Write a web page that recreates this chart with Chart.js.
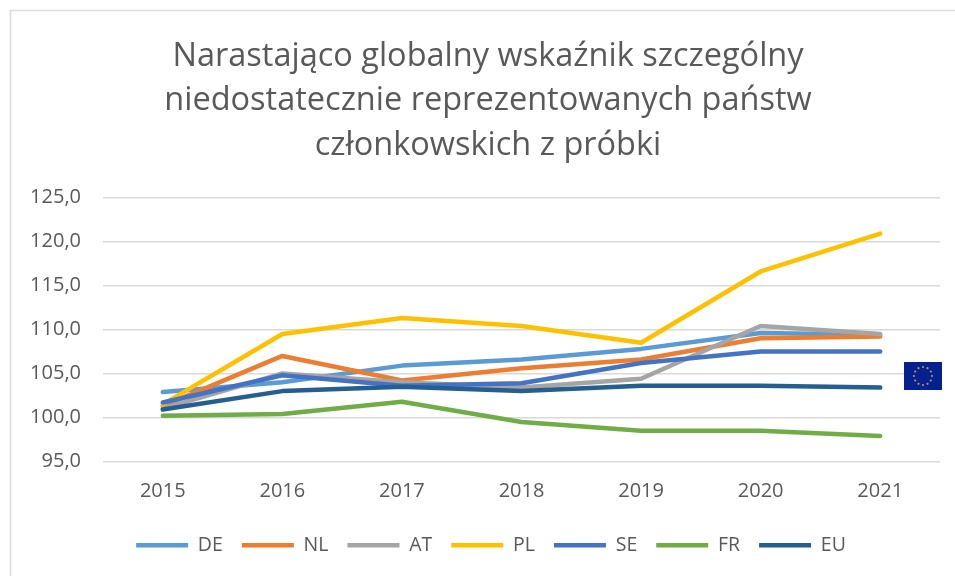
<!DOCTYPE html>
<html><head><meta charset="utf-8">
<style>html,body{margin:0;padding:0;background:#fff;width:955px;height:576px;overflow:hidden}
#w{position:absolute;left:0;top:0;width:955px;height:576px}</style>
<script src="https://cdn.jsdelivr.net/npm/chart.js@4"></script>
</head><body><div id="w"><canvas id="c" width="955" height="576"></canvas></div>
<script>
const years=['2015','2016','2017','2018','2019','2020','2021'];
const DE=[102.9,104.0,105.9,106.6,107.8,109.6,109.4];
const NL=[101.3,107.0,104.2,105.6,106.6,109.0,109.2];
const AT=[101.0,105.0,104.0,103.4,104.4,110.4,109.5];
const PL=[101.5,109.5,111.3,110.4,108.5,116.6,120.9];
const SE=[101.7,104.8,103.6,103.9,106.2,107.5,107.5];
const FR=[100.2,100.4,101.8,99.5,98.5,98.5,97.9];
const EU=[100.9,103.0,103.5,103.0,103.6,103.6,103.4];
const names=['DE','NL','AT','PL','SE','FR','EU'];
const colors=['#5B9BD5','#ED7D31','#A5A5A5','#FFC000','#4472C4','#70AD47','#255E91'];
const series=[DE,NL,AT,PL,SE,FR,EU];
const titleLines=['Narastająco globalny wskaźnik szczególny','niedostatecznie reprezentowanych państw','członkowskich z próbki'];
const yTicks=[95,100,105,110,115,120,125];
const frame={id:'frame',beforeDraw(ch){const x=ch.ctx;x.save();x.strokeStyle='#dcdcdc';x.lineWidth=1.5;
 x.beginPath();x.moveTo(10.5,576);x.lineTo(10.5,10.5);x.lineTo(955,10.5);x.stroke();x.restore();}};
const flag={id:'flag',afterDraw(ch){const x=ch.ctx;const L=904,T=362,W=38,H=28;x.save();x.fillStyle='#06218f';x.fillRect(L,T,W,H);
 x.fillStyle='#a89f5a';const cx=L+W/2,cy=T+H/2,r=9;
 for(let i=0;i<12;i++){const a=i*Math.PI/6;x.beginPath();x.arc(cx+r*Math.sin(a),cy-r*Math.cos(a),1.1,0,7);x.fill();}
 x.restore();}};
const nudge={id:'nudge',afterLayout(ch){ch.scales.y.left=14;ch.legend.left+=3;ch.legend.right+=3;}};
new Chart(document.getElementById('c'),{type:'line',
 data:{labels:years,datasets:series.map((d,i)=>({label:names[i],data:d,order:series.length-i,borderColor:colors[i],backgroundColor:colors[i],borderWidth:4.5,pointRadius:0,tension:0,borderCapStyle:'round',borderJoinStyle:'round',fill:false,pointStyle:'line'}))},
 options:{responsive:false,animation:false,
  layout:{padding:{left:36,right:15,top:8,bottom:11}},
  plugins:{tooltip:{enabled:false},
   title:{display:true,text:titleLines,color:'#595959',font:{family:'"Open Sans"',size:32.5,weight:'normal',lineHeight:1.37},padding:{top:26,bottom:30}},
   legend:{position:'bottom',labels:{usePointStyle:true,pointStyle:'line',pointStyleWidth:52,sort:(a,b)=>a.datasetIndex-b.datasetIndex,color:'#595959',font:{family:'"Open Sans"',size:19.5},padding:19,boxHeight:18}}},
  scales:{x:{offset:true,grid:{display:false},border:{display:false},afterFit(a){a.height+=3;},ticks:{color:'#595959',font:{family:'"Open Sans"',size:20},padding:10,maxRotation:0}},
   y:{min:95,max:125,afterBuildTicks(a){a.ticks=yTicks.map(v=>({value:v}));},grid:{color:'#d9d9d9',lineWidth:1.5,drawTicks:false},border:{display:false},
    afterFit(a){a.width=67;},
    ticks:{color:'#595959',font:{family:'"Open Sans"',size:20},padding:22,callback:v=>v.toFixed(1).replace('.',',')}}}},
 plugins:[frame,flag,nudge]});
</script></body></html>
